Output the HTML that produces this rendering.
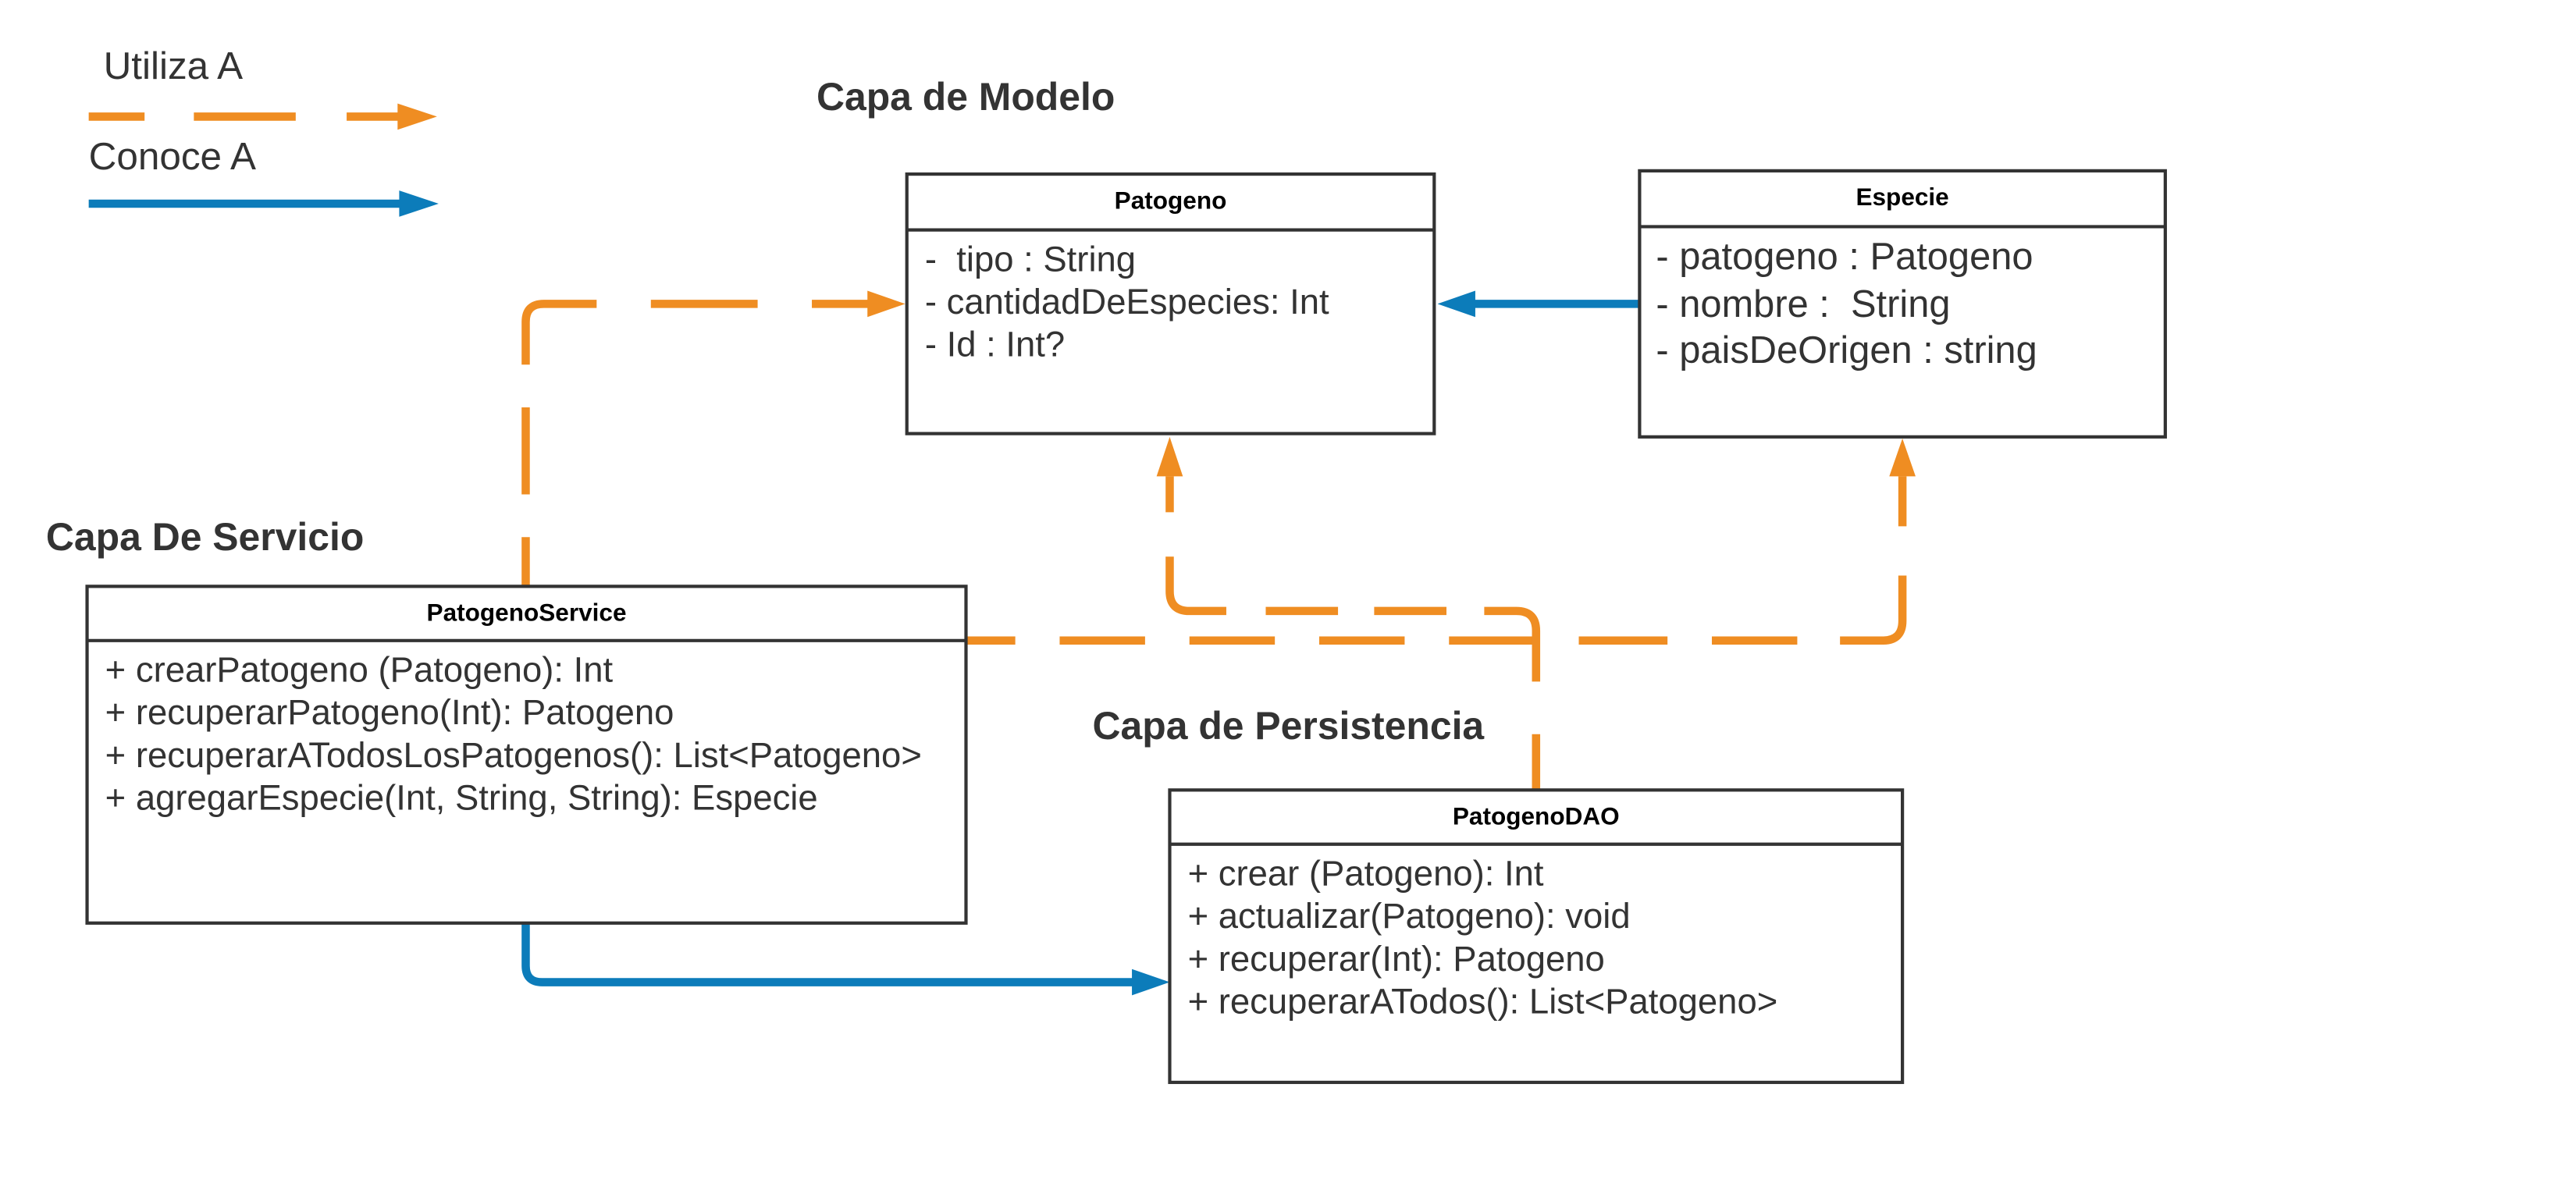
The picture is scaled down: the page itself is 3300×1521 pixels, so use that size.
<!DOCTYPE html>
<html><head><meta charset="utf-8"><style>
html,body{margin:0;padding:0;background:#fff;}
svg{display:block;}
text{font-family:"Liberation Sans",Arial,sans-serif;fill:#333;white-space:pre;}
.t{font-weight:bold;fill:#000;font-size:15px;}
.h{font-weight:bold;font-size:23.7px;}
.a{font-size:21.6px;}
.e{font-size:23.2px;}
.box{fill:#fff;stroke:#333;stroke-width:2;}
.o{fill:none;stroke:#EF8D22;stroke-width:5;}
.b{fill:none;stroke:#0C7CBA;stroke-width:5;}
</style></head><body>
<svg width="3300" height="1521" viewBox="0 0 1568 722.7" preserveAspectRatio="none" xmlns="http://www.w3.org/2000/svg">
<rect width="1568" height="723" fill="#fff"/>
<!-- legend -->
<text x="63" y="48" style="font-size:23.5px">Utiliza A</text>
<path d="M54 71 H245" class="o" style="stroke-dasharray:34 30 62 31 62 31 40"/>
<polygon points="242,63 266,71 242,79" fill="#EF8D22"/>
<text x="54" y="103" style="font-size:23.5px">Conoce A</text>
<path d="M54 124 H246" class="b"/>
<polygon points="243,116 267,124 243,132" fill="#0C7CBA"/>

<text x="497" y="67" class="h">Capa de Modelo</text>
<text x="28" y="335" class="h">Capa De Servicio</text>
<text x="665" y="450" class="h">Capa de Persistencia</text>

<!-- connectors -->
<path d="M320 357 V196 Q320 185 331 185 H530" class="o" style="stroke-dasharray:30 26 53 26 76 33 65 33 80"/>
<polygon points="528,177 551,185 528,193" fill="#EF8D22"/>
<path d="M588 390 H1146 Q1158 390 1158 378 V290" class="o" style="stroke-dasharray:30 27 52 27 52 27 52 27 51 28 54 27 52 26 73 30 40"/>
<polygon points="1150,290 1158,267 1166,290" fill="#EF8D22"/>
<path d="M935 481 V384 Q935 372 923 372 H724 Q712 372 712 360 V290" class="o" style="stroke-dasharray:34 32 70 23 44 22 44 24 63 27 40"/>
<polygon points="704,290 712,266 720,290" fill="#EF8D22"/>
<path d="M998 185 H895" class="b"/>
<polygon points="898,177 875,185 898,193" fill="#0C7CBA"/>
<path d="M320 562 V588 Q320 598 330 598 H692" class="b"/>
<polygon points="689,590 712,598 689,606" fill="#0C7CBA"/>

<!-- Patogeno -->
<rect x="552" y="106" width="321" height="158" class="box"/>
<line x1="552" y1="140" x2="873" y2="140" stroke="#333" stroke-width="2"/>
<text x="712.5" y="127" class="t" text-anchor="middle">Patogeno</text>
<text x="563" y="165" class="a">-  tipo : String</text>
<text x="563" y="191" class="a">- cantidadDeEspecies: Int</text>
<text x="563" y="217" class="a">- Id : Int?</text>

<!-- Especie -->
<rect x="998" y="104" width="320" height="162" class="box"/>
<line x1="998" y1="138" x2="1318" y2="138" stroke="#333" stroke-width="2"/>
<text x="1158" y="125" class="t" text-anchor="middle">Especie</text>
<text x="1008" y="164" class="e">- patogeno : Patogeno</text>
<text x="1008" y="193" class="e">- nombre :  String</text>
<text x="1008" y="221" class="e">- paisDeOrigen : string</text>

<!-- PatogenoService -->
<rect x="53" y="357" width="535" height="205" class="box"/>
<line x1="53" y1="390" x2="588" y2="390" stroke="#333" stroke-width="2"/>
<text x="320.5" y="378" class="t" text-anchor="middle">PatogenoService</text>
<text x="64" y="415" class="a">+ crearPatogeno (Patogeno): Int</text>
<text x="64" y="441" class="a">+ recuperarPatogeno(Int): Patogeno</text>
<text x="64" y="467" class="a">+ recuperarATodosLosPatogenos(): List&lt;Patogeno&gt;</text>
<text x="64" y="493" class="a">+ agregarEspecie(Int, String, String): Especie</text>

<!-- PatogenoDAO -->
<rect x="712" y="481" width="446" height="178" class="box"/>
<line x1="712" y1="514" x2="1158" y2="514" stroke="#333" stroke-width="2"/>
<text x="935" y="502" class="t" text-anchor="middle">PatogenoDAO</text>
<text x="723" y="539" class="a">+ crear (Patogeno): Int</text>
<text x="723" y="565" class="a">+ actualizar(Patogeno): void</text>
<text x="723" y="591" class="a">+ recuperar(Int): Patogeno</text>
<text x="723" y="617" class="a">+ recuperarATodos(): List&lt;Patogeno&gt;</text>
</svg>
</body></html>
